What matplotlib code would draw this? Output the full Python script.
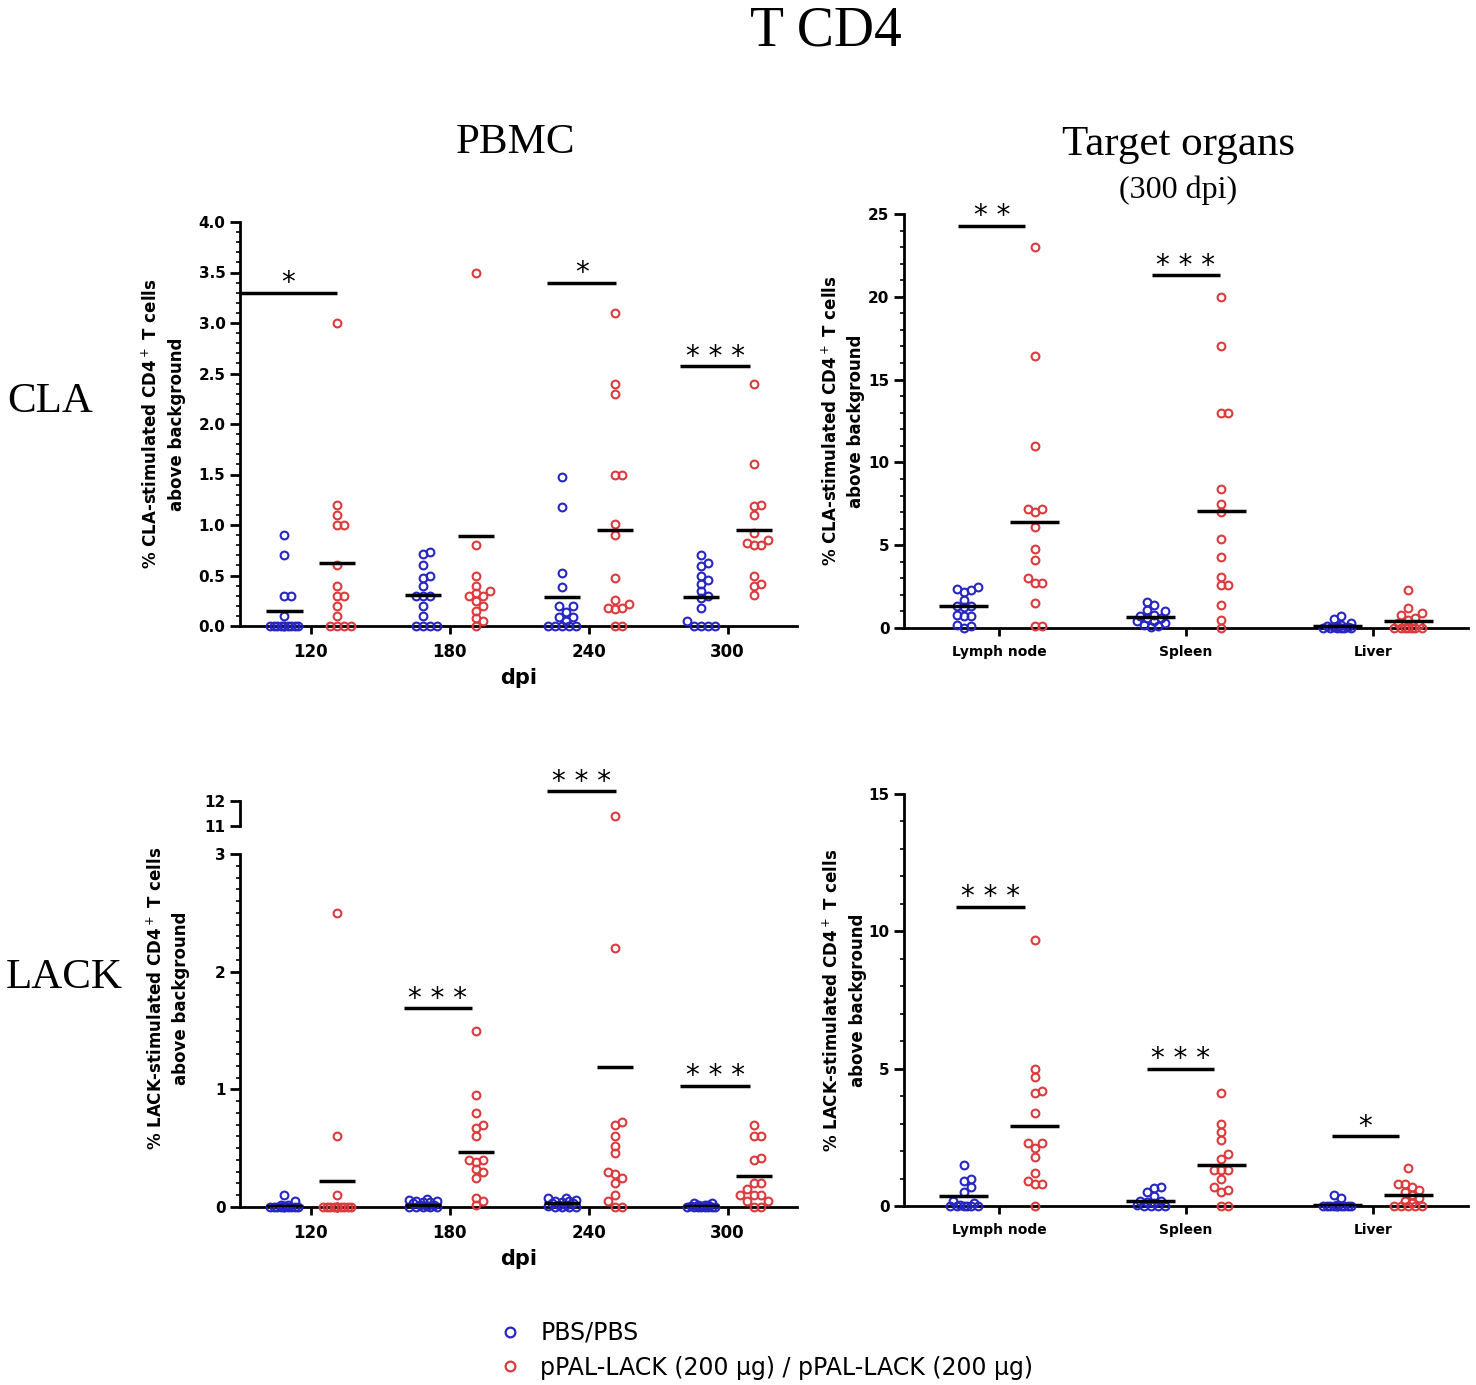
import numpy as np
import matplotlib
matplotlib.use("Agg")
import matplotlib.pyplot as plt
from matplotlib.lines import Line2D
from matplotlib.ticker import MultipleLocator, FormatStrFormatter

W, H = 1476, 1385
BLUE = "#2626c4"
RED = "#dc3a3c"

dpi_groups = ["120", "180", "240", "300"]
organs = ["Lymph node", "Spleen", "Liver"]
legend_labels = ["PBS/PBS", "pPAL-LACK (200 µg) / pPAL-LACK (200 µg)"]

# CLA, PBMC (% cells), one list per dpi
cla_pbmc_pbs = [
    [0.9, 0.7, 0.3, 0.3, 0.1, 0, 0, 0, 0, 0, 0, 0, 0, 0, 0],
    [0.73, 0.71, 0.6, 0.5, 0.48, 0.4, 0.3, 0.3, 0.3, 0.2, 0.1, 0, 0, 0, 0],
    [1.48, 1.18, 0.52, 0.39, 0.2, 0.2, 0.14, 0.09, 0.09, 0.05, 0, 0, 0, 0, 0],
    [0.7, 0.62, 0.59, 0.5, 0.46, 0.42, 0.35, 0.3, 0.28, 0.18, 0.05, 0, 0, 0, 0],
]
cla_pbmc_lack = [
    [3.0, 1.2, 1.1, 1.0, 1.0, 0.6, 0.4, 0.3, 0.3, 0.2, 0.1, 0, 0, 0, 0],
    [3.5, 0.8, 0.5, 0.4, 0.35, 0.33, 0.3, 0.3, 0.25, 0.2, 0.15, 0.08, 0.05, 0],
    [3.1, 2.4, 2.3, 1.5, 1.5, 1.01, 0.9, 0.48, 0.26, 0.22, 0.18, 0.17, 0.18, 0, 0],
    [2.4, 1.6, 1.2, 1.19, 1.1, 0.92, 0.85, 0.82, 0.8, 0.8, 0.5, 0.42, 0.4, 0.31],
]
cla_pbmc_pbs_mean = [0.15, 0.31, 0.29, 0.29]
cla_pbmc_lack_mean = [0.62, 0.89, 0.95, 0.95]

# CLA, target organs
cla_organ_pbs = [
    [2.5, 2.35, 2.3, 2.2, 1.7, 1.3, 1.3, 1.25, 0.8, 0.75, 0.7, 0.2, 0.1, 0.0],
    [1.6, 1.4, 1.1, 1.0, 0.8, 0.7, 0.6, 0.6, 0.4, 0.4, 0.3, 0.2, 0.1, 0.05],
    [0.7, 0.55, 0.3, 0.2, 0.15, 0.1, 0.05, 0.05, 0, 0, 0, 0, 0, 0],
]
cla_organ_lack = [
    [23.0, 16.4, 11.0, 7.2, 7.2, 7.0, 6.1, 4.8, 4.1, 3.0, 2.7, 2.7, 1.5, 0.1, 0.1],
    [20.0, 17.0, 13.0, 13.0, 8.4, 7.5, 7.0, 5.4, 4.3, 3.1, 2.6, 2.6, 1.4, 0.5, 0.0],
    [2.3, 1.2, 0.9, 0.8, 0.6, 0.5, 0.3, 0.2, 0, 0, 0, 0, 0, 0, 0],
]
cla_organ_pbs_mean = [1.3, 0.65, 0.1]
cla_organ_lack_mean = [6.4, 7.05, 0.45]

# LACK, PBMC
lack_pbmc_pbs = [
    [0.1, 0.05, 0.02, 0.02, 0.01, 0, 0, 0, 0, 0, 0, 0, 0, 0, 0],
    [0.07, 0.06, 0.05, 0.05, 0.04, 0.04, 0.03, 0.02, 0.02, 0.01, 0, 0, 0, 0, 0],
    [0.08, 0.08, 0.06, 0.05, 0.05, 0.04, 0.03, 0.03, 0.02, 0.02, 0.01, 0, 0, 0, 0],
    [0.03, 0.03, 0.02, 0.02, 0.02, 0.01, 0.01, 0, 0, 0, 0, 0, 0, 0, 0],
]
lack_pbmc_lack = [
    [2.5, 0.6, 0.1, 0, 0, 0, 0, 0, 0, 0, 0, 0, 0, 0, 0],
    [1.5, 0.95, 0.8, 0.7, 0.67, 0.6, 0.4, 0.4, 0.38, 0.32, 0.3, 0.25, 0.08, 0.05, 0.02],
    [11.4, 2.2, 0.72, 0.7, 0.6, 0.52, 0.46, 0.3, 0.28, 0.25, 0.2, 0.1, 0.05, 0, 0],
    [0.7, 0.6, 0.6, 0.42, 0.4, 0.2, 0.2, 0.15, 0.1, 0.1, 0.1, 0.05, 0.05, 0, 0],
]
lack_pbmc_pbs_mean = [0.01, 0.02, 0.03, 0.01]
lack_pbmc_lack_mean = [0.22, 0.47, 1.19, 0.26]

# LACK, target organs
lack_organ_pbs = [
    [1.5, 1.0, 0.9, 0.7, 0.5, 0.2, 0.1, 0.05, 0, 0, 0, 0, 0, 0],
    [0.7, 0.65, 0.5, 0.35, 0.2, 0.2, 0.15, 0.1, 0.05, 0, 0, 0, 0],
    [0.4, 0.3, 0.05, 0, 0, 0, 0, 0, 0, 0, 0, 0, 0],
]
lack_organ_lack = [
    [9.7, 5.0, 4.7, 4.2, 4.1, 3.4, 2.3, 2.3, 2.1, 1.8, 1.2, 0.9, 0.8, 0.8, 0],
    [4.1, 3.0, 2.7, 2.4, 1.9, 1.7, 1.3, 1.3, 1.3, 1.0, 0.7, 0.6, 0.5, 0, 0],
    [1.4, 0.8, 0.8, 0.7, 0.6, 0.5, 0.4, 0.3, 0.2, 0.1, 0, 0, 0, 0, 0],
]
lack_organ_pbs_mean = [0.38, 0.2, 0.05]
lack_organ_lack_mean = [2.9, 1.5, 0.4]

# significance: (group, y, stars, bar start, bar end) relative to group
cla_pbmc_sig = [(0, 3.3, "*", -0.52, 0.19), (2, 3.4, "*", -0.3, 0.2), (3, 2.57, "* * *", -0.34, 0.16)]
cla_organ_sig = [(0, 24.3, "* *", -0.22, 0.14), (1, 21.3, "* * *", -0.18, 0.18)]
lack_pbmc_sig = [(1, 1.69, "* * *", -0.33, 0.16), (2, 12.4, "* * *", -0.3, 0.2), (3, 1.03, "* * *", -0.34, 0.16)]
lack_organ_sig = [(0, 10.9, "* * *", -0.23, 0.14), (1, 5.0, "* * *", -0.21, 0.15), (2, 2.55, "*", -0.22, 0.14)]

OFF = 0.19


def swarm(vals, sx, sy, d=7.0, maxw=15.0):
    # simple beeswarm in pixel space, capped width
    vals = np.asarray(vals, float)
    order = np.argsort(vals)
    placed = []
    offs = np.zeros(len(vals))
    step = d / 2
    cands = [0.0]
    k = 1
    while k * step <= maxw:
        cands += [k * step, -k * step]
        k += 1
    for i in order:
        y = vals[i] * sy
        best, best_d = 0.0, -1
        for x in cands:
            md = min([np.hypot(x - px, y - py) for px, py in placed] + [1e9])
            if md >= d:
                best = x
                break
            if md > best_d:
                best, best_d = x, md
        placed.append((best, y))
        offs[i] = best / sx
    return offs


fig = plt.figure(figsize=(W / 100, H / 100), dpi=100)


def add_axes(l, r, b, t):
    return fig.add_axes([l / W, 1 - b / H, (r - l) / W, (b - t) / H])


def style(ax, cats, major, minor, fmt=None, xsize=12):
    for s in ["top", "right"]:
        ax.spines[s].set_visible(False)
    ax.spines["left"].set_linewidth(2)
    ax.spines["bottom"].set_linewidth(2)
    ax.yaxis.set_major_locator(MultipleLocator(major))
    ax.yaxis.set_minor_locator(MultipleLocator(minor))
    if fmt:
        ax.yaxis.set_major_formatter(FormatStrFormatter(fmt))
    ax.tick_params(axis="y", which="major", length=7, width=2, labelsize=11)
    ax.tick_params(axis="y", which="minor", length=3, width=1.2)
    ax.set_xticks(range(len(cats)))
    ax.set_xticklabels(cats)
    ax.tick_params(axis="x", which="major", length=6, width=2, labelsize=xsize, pad=6)
    for lab in ax.get_xticklabels() + ax.get_yticklabels():
        lab.set_fontweight("bold")


def px_scale(ax):
    bb = ax.get_position()
    x0, x1 = ax.get_xlim()
    y0, y1 = ax.get_ylim()
    return bb.width * W / (x1 - x0), bb.height * H / (y1 - y0)


def draw_groups(ax, pbs, lack, pbs_mean, lack_mean, upper=None, cut=None):
    sx, sy = px_scale(ax)
    for g in range(len(pbs)):
        for vals, pos, col, m in [(pbs[g], g - OFF, BLUE, pbs_mean[g]),
                                  (lack[g], g + OFF, RED, lack_mean[g])]:
            vals = np.asarray(vals, float)
            offs = swarm(vals, sx, sy)
            xs = pos + offs
            lo = vals if cut is None else np.where(vals <= cut, vals, np.nan)
            ax.plot(xs, lo, "o", ms=5.6, mfc="none", mec=col, mew=1.5,
                    clip_on=False, zorder=3)
            if upper is not None:
                hi = np.where(vals > cut, vals, np.nan)
                upper.plot(xs, hi, "o", ms=5.6, mfc="none", mec=col, mew=1.5,
                           clip_on=False, zorder=3)
            ax.hlines(m, pos - 0.13, pos + 0.13, color="black", lw=2.5, zorder=4)


def draw_sig(ax, sig):
    for g, y, stars, a, b in sig:
        ax.hlines(y, g + a, g + b, color="black", lw=2.5, clip_on=False)
        ax.annotate(stars, (g + (a + b) / 2, y), xytext=(0, 1), textcoords="offset points",
                    ha="center", va="baseline", fontsize=20, annotation_clip=False)


def ylabel(ax, text, x, y=0.5):
    ax.text(x, y, text, transform=ax.transAxes, rotation=90, ha="center", va="center",
            fontsize=12, fontweight="bold", linespacing=1.5, multialignment="center")


# CLA PBMC
ax_tl = add_axes(240, 797, 626, 222)
ax_tl.set_xlim(-0.51, 3.5)
ax_tl.set_ylim(0, 4.0)
style(ax_tl, dpi_groups, 0.5, 0.1, "%.1f")
draw_groups(ax_tl, cla_pbmc_pbs, cla_pbmc_lack, cla_pbmc_pbs_mean, cla_pbmc_lack_mean)
draw_sig(ax_tl, cla_pbmc_sig)
ax_tl.set_xlabel("dpi", fontsize=15, fontweight="bold", labelpad=5)
ylabel(ax_tl, "% CLA-stimulated CD4$^+$ T cells\nabove background", -0.137)

# CLA organs
ax_tr = add_axes(904, 1468, 628, 214)
ax_tr.set_xlim(-0.51, 2.51)
ax_tr.set_ylim(0, 25)
style(ax_tr, organs, 5, 1, xsize=10)
draw_groups(ax_tr, cla_organ_pbs, cla_organ_lack, cla_organ_pbs_mean, cla_organ_lack_mean)
draw_sig(ax_tr, cla_organ_sig)
ylabel(ax_tr, "% CLA-stimulated CD4$^+$ T cells\nabove background", -0.108)

# LACK PBMC, broken axis
ax_bl = add_axes(240, 797, 1207, 854)
ax_bl.set_xlim(-0.51, 3.5)
ax_bl.set_ylim(0, 3)
style(ax_bl, dpi_groups, 1, 0.1)
ax_blu = add_axes(240, 797, 826, 778.5)
ax_blu.set_xlim(-0.51, 3.5)
ax_blu.set_ylim(11, 12.9)
ax_blu.patch.set_visible(False)
for s in ["top", "right", "bottom"]:
    ax_blu.spines[s].set_visible(False)
ax_blu.spines["left"].set_linewidth(2)
ax_blu.spines["left"].set_bounds(11, 12)
ax_blu.set_xticks([])
ax_blu.set_yticks([11, 12])
ax_blu.tick_params(axis="y", length=7, width=2, labelsize=11)
for lab in ax_blu.get_yticklabels():
    lab.set_fontweight("bold")
draw_groups(ax_bl, lack_pbmc_pbs, lack_pbmc_lack, lack_pbmc_pbs_mean, lack_pbmc_lack_mean,
            upper=ax_blu, cut=3)
draw_sig(ax_bl, [s for s in lack_pbmc_sig if s[1] <= 3])
draw_sig(ax_blu, [s for s in lack_pbmc_sig if s[1] > 3])
ax_bl.set_xlabel("dpi", fontsize=15, fontweight="bold", labelpad=5)
ylabel(ax_bl, "% LACK-stimulated CD4$^+$ T cells\nabove background", -0.129, 0.59)

# LACK organs
ax_br = add_axes(904, 1468, 1206, 794)
ax_br.set_xlim(-0.51, 2.51)
ax_br.set_ylim(0, 15)
style(ax_br, organs, 5, 1, xsize=10)
draw_groups(ax_br, lack_organ_pbs, lack_organ_lack, lack_organ_pbs_mean, lack_organ_lack_mean)
draw_sig(ax_br, lack_organ_sig)
ylabel(ax_br, "% LACK-stimulated CD4$^+$ T cells\nabove background", -0.105)

# headings
serif = "Liberation Serif"
fig.text(826 / W, 1 - 32 / H, "T CD4", ha="center", va="center", fontsize=40, family=serif)
fig.text(516 / W, 1 - 143 / H, "PBMC", ha="center", va="center", fontsize=31, family=serif)
fig.text(1179 / W, 1 - 145 / H, "Target organs", ha="center", va="center", fontsize=31, family=serif)
fig.text(1178 / W, 1 - 190 / H, "(300 dpi)", ha="center", va="center", fontsize=23, family=serif)
fig.text(50 / W, 1 - 402 / H, "CLA", ha="center", va="center", fontsize=31, family=serif)
fig.text(64 / W, 1 - 978 / H, "LACK", ha="center", va="center", fontsize=31, family=serif)

handles = [Line2D([], [], marker="o", ls="none", mfc="none", mec=c, mew=1.6, ms=7)
           for c in (BLUE, RED)]
fig.legend(handles, legend_labels, loc="upper left", bbox_to_anchor=(486 / W, 1 - 1321 / H),
           frameon=False, fontsize=17, handletextpad=0.3, labelspacing=0.45,
           borderaxespad=0, borderpad=0)

fig.savefig("out.png", dpi=100)
